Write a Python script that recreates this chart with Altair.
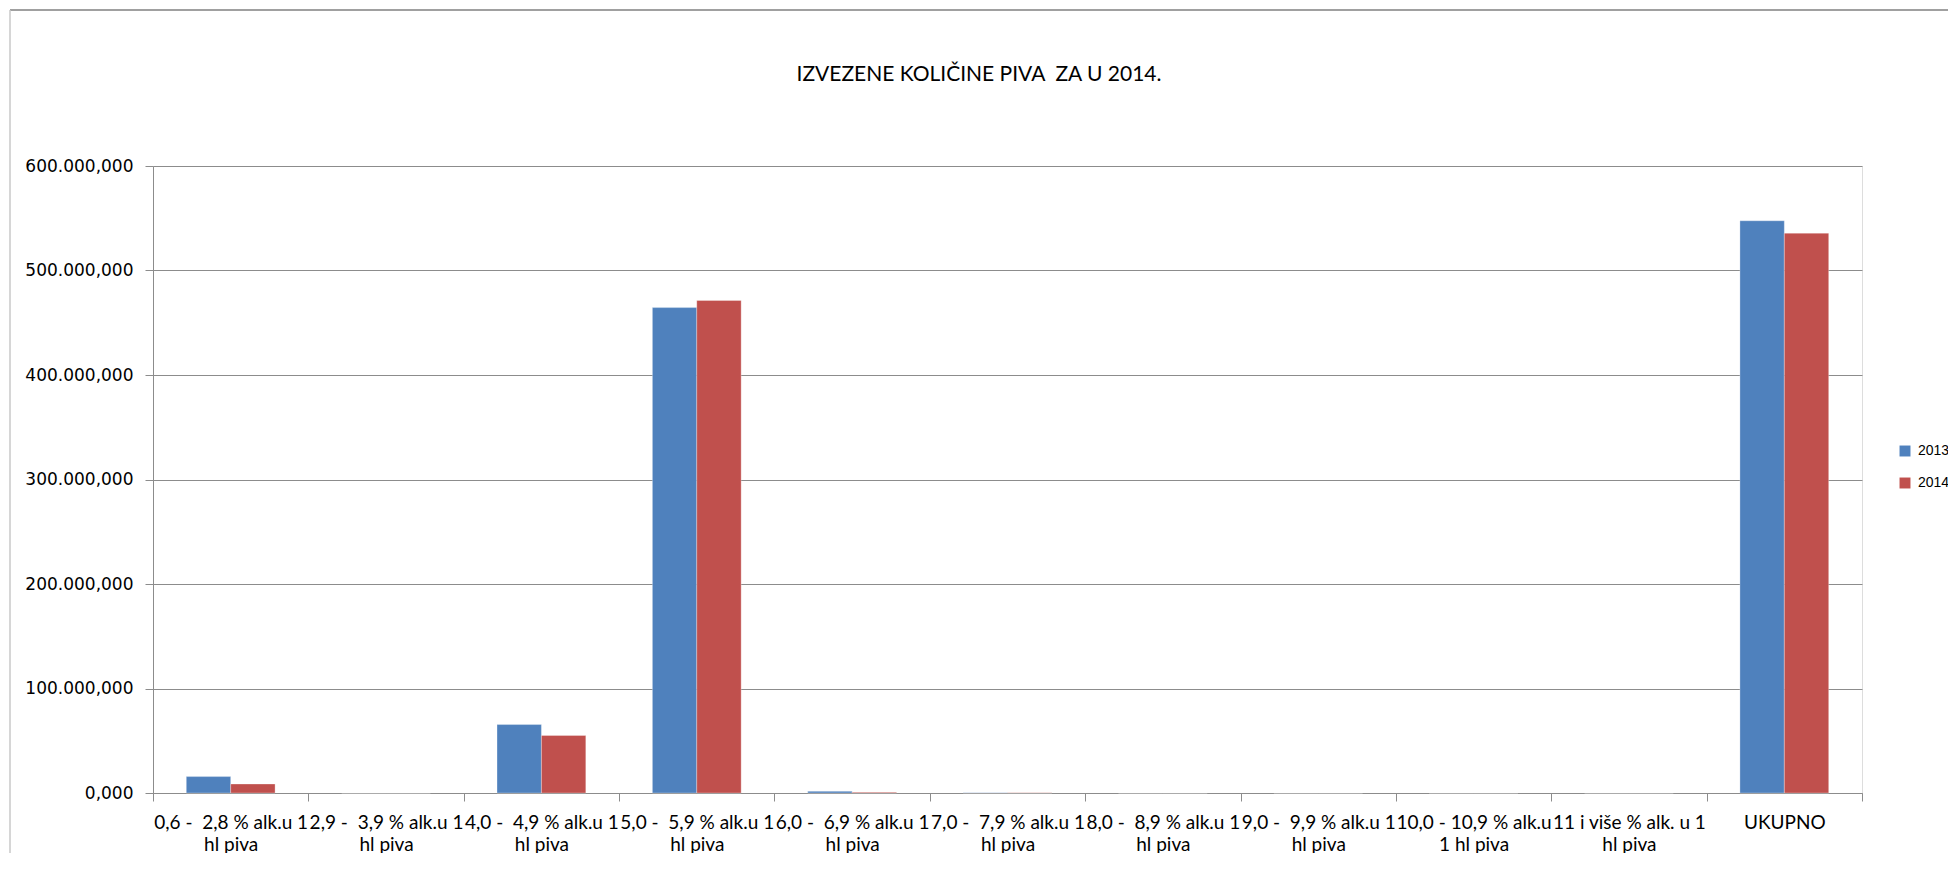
import altair as alt
import pandas as pd

NB = "\u00a0"
categories = [
    "0,6 -" + NB + " 2,8 % alk.u 1|hl piva",
    "2,9 -" + NB + " 3,9 % alk.u 1|hl piva",
    "4,0 -" + NB + " 4,9 % alk.u 1|hl piva",
    "5,0 -" + NB + " 5,9 % alk.u 1|hl piva",
    "6,0 -" + NB + " 6,9 % alk.u 1|hl piva",
    "7,0 -" + NB + " 7,9 % alk.u 1|hl piva",
    "8,0 -" + NB + " 8,9 % alk.u 1|hl piva",
    "9,0 -" + NB + " 9,9 % alk.u 1|hl piva",
    "10,0 - 10,9 % alk.u|1 hl piva",
    "11 i više % alk. u 1|hl piva",
    "UKUPNO",
]
years = ["2013", "2014"]
values_2013 = [15700, 0, 65500, 464500, 1600, 300, 0, 0, 0, 0, 547600]
values_2014 = [8600, 0, 55000, 471300, 600, 200, 0, 0, 0, 0, 535700]
y_ticks = [0, 100000, 200000, 300000, 400000, 500000, 600000]
colors = ["#4F81BD", "#C0504D"]
title_text = "IZVEZENE KOLIČINE PIVA" + NB + " ZA U 2014."

rows = []
for c, a, b in zip(categories, values_2013, values_2014):
    rows.append({"kat": c, "godina": years[0], "vrijednost": a})
    rows.append({"kat": c, "godina": years[1], "vrijednost": b})
df = pd.DataFrame(rows)

grey = "#8c8c8c"

bars = alt.Chart(df).mark_bar(stroke="white", strokeWidth=0.6, strokeOpacity=0.5).encode(
    x=alt.X(
        "kat:N",
        sort=categories,
        scale=alt.Scale(paddingInner=0, paddingOuter=0),
        axis=alt.Axis(
            title=None,
            labelAngle=0,
            labelExpr="split(datum.label, '|')",
            labelFont="Liberation Sans Narrow, Lato",
            labelFontSize=19,
            labelColor="#000000",
            labelLineHeight=22,
            labelPadding=12,
            labelLimit=400,
            tickBand="extent",
            tickSize=8,
            tickColor=grey,
            domainColor=grey,
            grid=False,
            labelBaseline="top",
        ),
    ),
    xOffset=alt.XOffset("godina:N", sort=years, scale=alt.Scale(paddingOuter=0.75, paddingInner=0)),
    y=alt.Y(
        "vrijednost:Q",
        scale=alt.Scale(domain=[0, 600000], nice=False),
        axis=alt.Axis(
            title=None,
            values=y_ticks,
            labelExpr="replace(replace(replace(format(datum.value, ',.3f'), regexp(',', 'g'), '#'), regexp('\\\\.', 'g'), ','), regexp('#', 'g'), '.')",
            labelFont="DejaVu Sans",
            labelFontSize=17,
            labelColor="#000000",
            labelPadding=12,
            tickSize=8,
            tickColor=grey,
            domainColor=grey,
            gridColor=grey,
            gridWidth=1,
        ),
    ),
    color=alt.Color(
        "godina:N",
        sort=years,
        scale=alt.Scale(domain=years, range=colors),
        legend=alt.Legend(
            title=None,
            orient="none",
            legendX=1745,
            legendY=278,
            symbolType="square",
            symbolSize=120,
            symbolStrokeWidth=0,
            labelFont="Liberation Sans, Arial",
            labelFontSize=14,
            labelColor="#000000",
            rowPadding=18,
            labelOffset=6,
        ),
    ),
)

title_mark = alt.Chart(pd.DataFrame({"t": [title_text]})).mark_text(
    font="Liberation Sans Narrow, Lato",
    fontSize=21,
    color="#000000",
    align="center",
    baseline="middle",
).encode(text="t:N", x=alt.value(826), y=alt.value(-91))

frame = alt.Chart(pd.DataFrame({"f": [0]})).mark_rule(color="#a0a0a0", strokeWidth=2).encode(
    x=alt.value(-143), x2=alt.value(1800), y=alt.value(-156)
)
frame_left = alt.Chart(pd.DataFrame({"f": [0]})).mark_rule(color="#c8c8c8", strokeWidth=1.5).encode(
    x=alt.value(-143), y=alt.value(-156), y2=alt.value(720)
)

chart = alt.layer(frame, frame_left, title_mark, bars).properties(
    width=1709,
    height=627,
    padding={"left": 145, "top": 158, "right": 86, "bottom": 60},
    autosize=alt.AutoSizeParams(type="none"),
).configure_view(stroke=None).configure(background="white")

chart.save("out.html", embed_options={"renderer": "svg", "actions": False})
